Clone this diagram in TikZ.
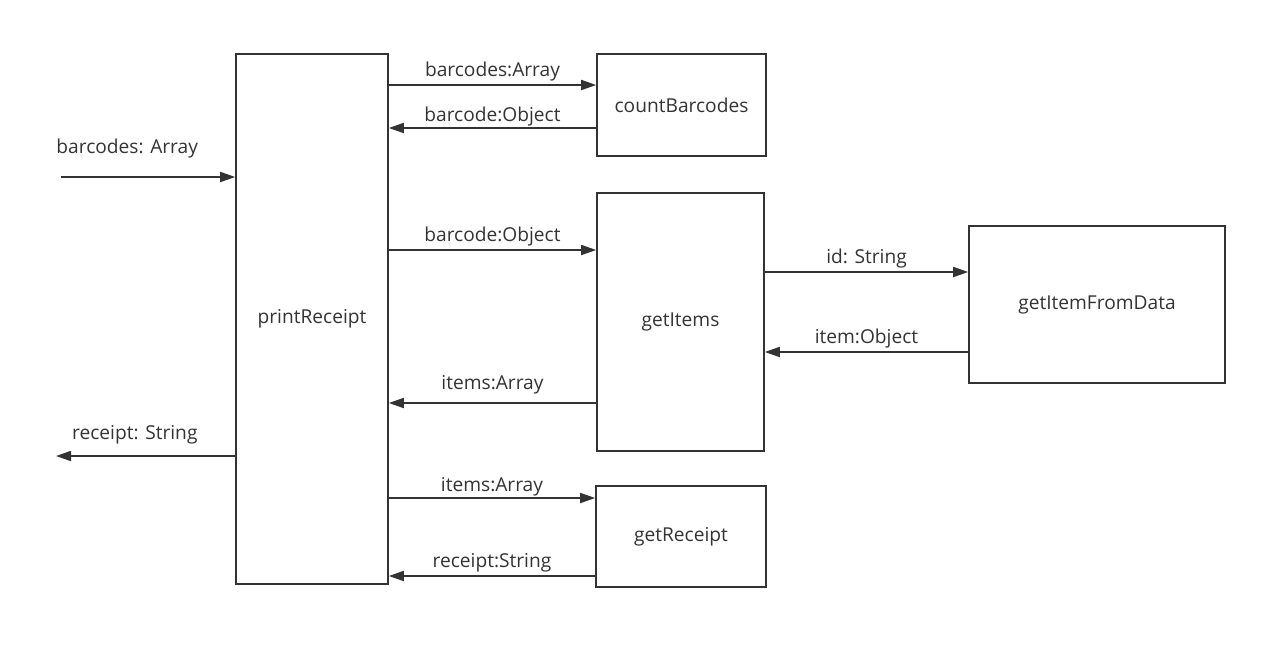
\documentclass[tikz,border=0pt]{standalone}
\usepackage{fontspec}
\setmainfont{Open Sans}
\usetikzlibrary{arrows.meta}
\definecolor{inkgray}{HTML}{333333}
\definecolor{textgray}{HTML}{333333}

\begin{document}
\begin{tikzpicture}[
  func/.style={draw=inkgray, line width=0.9pt, minimum width=#1, inner sep=0pt, text=textgray},
  flow/.style={draw=inkgray, line width=1pt, -{Triangle[length=3mm,width=2mm]}},
  lbl/.style={above=1pt, text=textgray, inner sep=1pt},
  every node/.style={font=\fontsize{10.9}{13}\selectfont}
]
\useasboundingbox (0,0) rectangle (25.74,-12.98);

%functions
\node[func=3.04cm, minimum height=10.6cm]  (printReceipt)    at (6.24,-6.38)  {printReceipt};
\node[func=3.38cm, minimum height=2.04cm]  (countBarcodes)   at (13.63,-2.10) {countBarcodes};
\node[func=3.34cm, minimum height=5.16cm]  (getItems)        at (13.61,-6.44) {getItems};
\node[func=5.12cm, minimum height=3.14cm]  (getItemFromData) at (21.94,-6.09) {getItemFromData};
\node[func=3.40cm, minimum height=2.02cm]  (getReceipt)      at (13.62,-10.73) {getReceipt};

%free ends
\coordinate (input)  at (1.22,-3.54);
\coordinate (output) at (1.12,-9.12);

%in and out
\draw[flow] (input) -- (printReceipt.west |- input) node[lbl, pos=0.38, yshift=8pt] {barcodes: Array};
\draw[flow] (printReceipt.west |- output) -- (output) node[lbl, pos=0.56, yshift=4pt] {receipt: String};

%countBarcodes
\draw[flow] (printReceipt.east |- 0,-1.70) -- (countBarcodes.west |- 0,-1.70) node[lbl, midway] {barcodes:Array};
\draw[flow] (countBarcodes.west |- 0,-2.56) -- (printReceipt.east |- 0,-2.56) node[lbl, midway, yshift=-1.5pt] {barcode:Object};

%getItems
\draw[flow] (printReceipt.east |- 0,-5.00) -- (getItems.west |- 0,-5.00) node[lbl, midway] {barcode:Object};
\draw[flow] (getItems.west |- 0,-8.06) -- (printReceipt.east |- 0,-8.06) node[lbl, midway, yshift=2.5pt] {items:Array};
\draw[flow] (getItems.east |- 0,-5.44) -- (getItemFromData.west |- 0,-5.44) node[lbl, midway] {id: String};
\draw[flow] (getItemFromData.west |- 0,-7.04) -- (getItems.east |- 0,-7.04) node[lbl, midway] {item:Object};

%getReceipt
\draw[flow] (printReceipt.east |- 0,-9.96) -- (getReceipt.west |- 0,-9.96) node[lbl, midway, yshift=-1.5pt] {items:Array};
\draw[flow] (getReceipt.west |- 0,-11.52) -- (printReceipt.east |- 0,-11.52) node[lbl, midway] {receipt:String};

\end{tikzpicture}
\end{document}
